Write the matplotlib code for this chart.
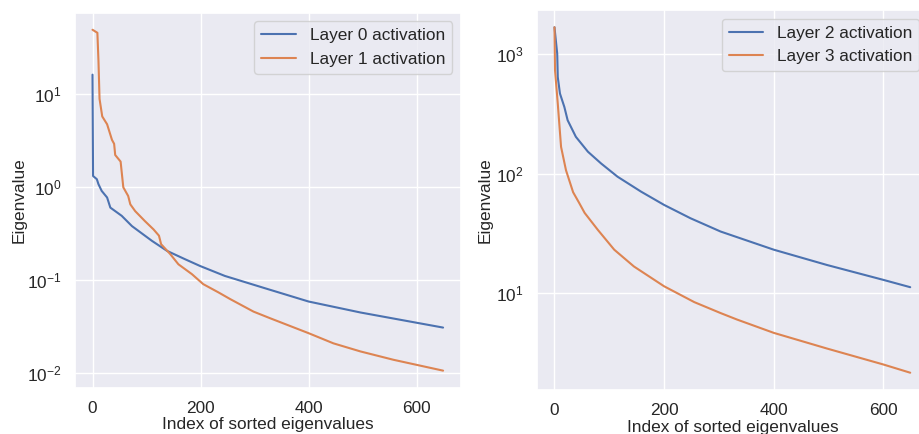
import matplotlib
matplotlib.use("Agg")
import matplotlib.pyplot as plt
import seaborn as sns

# values (index of sorted eigenvalue, eigenvalue)
layer0_idx = [0, 1, 8, 11, 17, 27, 33, 54, 73, 97, 110, 138, 171, 199, 245, 319, 400, 496, 560, 649]
layer0_val = [16, 1.31, 1.21, 1.07, 0.906, 0.77, 0.60, 0.49, 0.38, 0.30, 0.264, 0.206, 0.168,
              0.142, 0.111, 0.082, 0.059, 0.045, 0.0385, 0.031]

layer1_idx = [0, 9, 11, 13, 18, 27, 36, 40, 42, 52, 57, 66, 70, 79, 97, 113, 123, 127, 144, 159,
              184, 205, 233, 255, 298, 329, 400, 446, 496, 557, 649]
layer1_val = [48.5, 45, 22.6, 8.8, 5.7, 4.7, 3.2, 2.9, 2.2, 1.87, 0.99, 0.80, 0.65, 0.55, 0.43,
              0.35, 0.30, 0.243, 0.19, 0.148, 0.116, 0.0906, 0.074, 0.0626, 0.046, 0.039, 0.027,
              0.021, 0.0172, 0.014, 0.0107]

layer2_idx = [0, 5, 6, 10, 18, 24, 39, 61, 85, 115, 158, 200, 248, 303, 400, 497, 600, 649]
layer2_val = [1690, 1013, 646, 470, 363, 281, 204, 153, 122, 94.5, 70.8, 54.8, 42.4, 32.8, 23.1,
              17.2, 12.9, 11.2]

layer3_idx = [0, 1, 6, 12, 21, 34, 45, 55, 79, 109, 145, 200, 255, 303, 333, 400, 497, 600, 649]
layer3_val = [1690, 735, 387, 168, 107, 70, 57, 47, 33.9, 23.1, 16.7, 11.4, 8.4, 6.8, 6.0, 4.64,
              3.43, 2.52, 2.15]

sns.set_theme(style="darkgrid")
plt.rcParams["font.family"] = ["Liberation Sans", "DejaVu Sans"]
FS = 12.4

fig = plt.figure(figsize=(9.19, 4.34), dpi=100)
ax1 = fig.add_axes([0.0816, 0.1067, 0.4196, 0.864])
ax2 = fig.add_axes([0.584, 0.1014, 0.4258, 0.8756])

ax1.plot(layer0_idx, layer0_val, label="Layer 0 activation", lw=1.5)
ax1.plot(layer1_idx, layer1_val, label="Layer 1 activation", lw=1.5)
ax2.plot(layer2_idx, layer2_val, label="Layer 2 activation", lw=1.5)
ax2.plot(layer3_idx, layer3_val, label="Layer 3 activation", lw=1.5)

for ax, pad in ((ax1, 0.5), (ax2, 2.2)):
    ax.set_yscale("log")
    ax.set_xticks([0, 200, 400, 600])
    ax.set_xlabel("Index of sorted eigenvalues", fontsize=FS, labelpad=1)
    ax.set_ylabel("Eigenvalue", fontsize=FS, labelpad=pad)
    ax.tick_params(labelsize=FS)
    ax.legend(loc="upper right", fontsize=FS)

fig.savefig("out.png", dpi=100)
